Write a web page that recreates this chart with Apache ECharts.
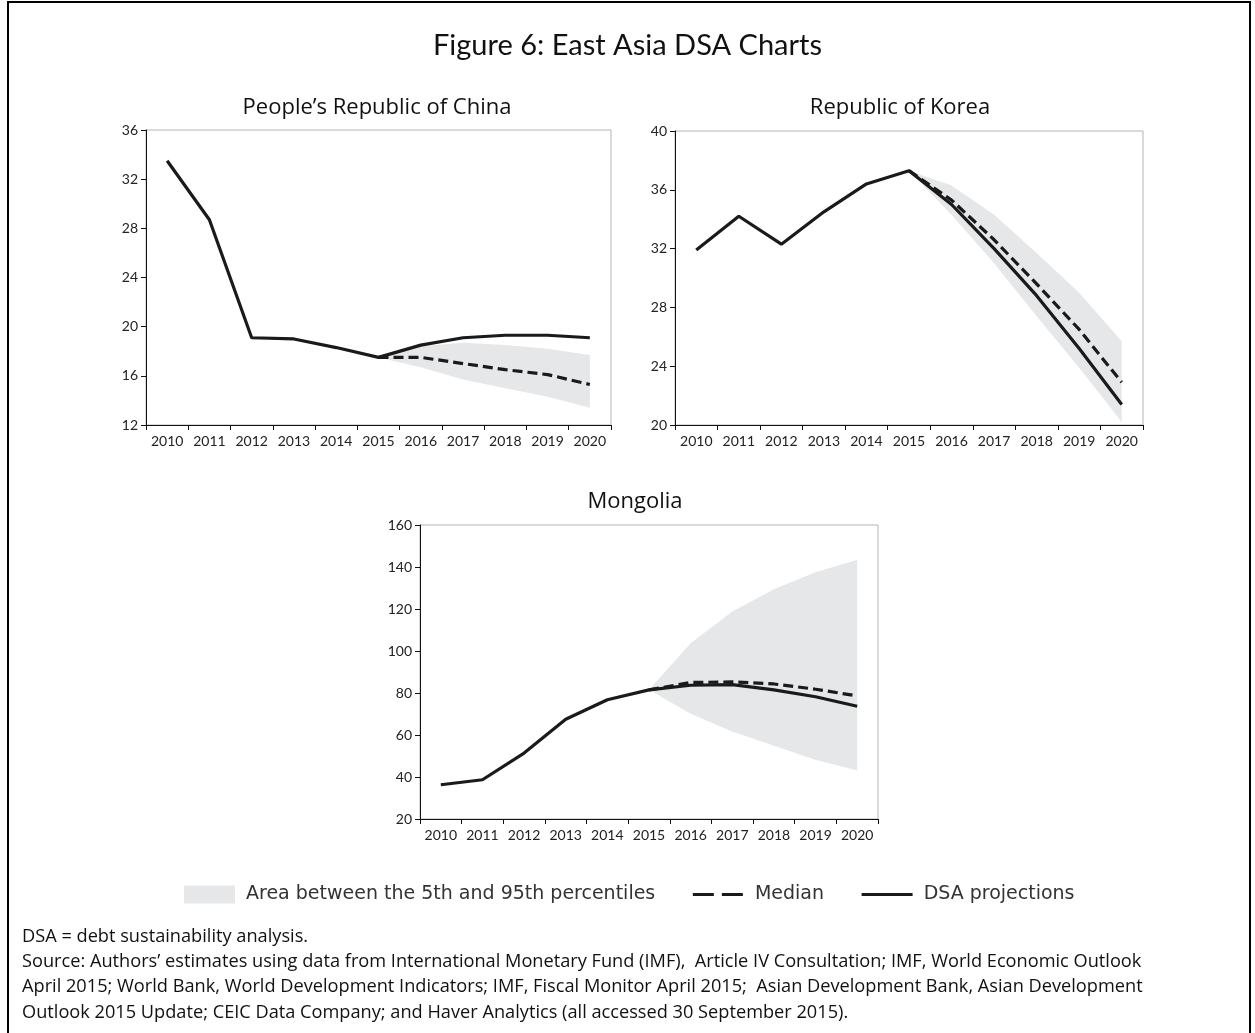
<!DOCTYPE html>
<html>
<head>
<meta charset="utf-8">
<script src="https://cdn.jsdelivr.net/npm/echarts@6/dist/echarts.min.js"></script>
<style>
html,body{margin:0;padding:0;background:#fff;}
#frame{position:absolute;left:7px;top:1px;width:1244px;height:1045px;border:2px solid #000;box-sizing:border-box;}
#chart{position:absolute;left:0;top:0;width:1255px;height:1033px;}
</style>
</head>
<body>
<div id="frame"></div>
<div id="chart"></div>
<script>
const years = ['2010','2011','2012','2013','2014','2015','2016','2017','2018','2019','2020'];

// People's Republic of China
const prcDSA    = [33.5, 28.7, 19.1, 19.0, 18.3, 17.5, 18.5, 19.1, 19.3, 19.3, 19.1];
const prcMedian = [null, null, null, null, null, 17.5, 17.5, 17.0, 16.5, 16.1, 15.3];
const prcP5     = [null, null, null, null, null, 17.5, 16.7, 15.7, 15.0, 14.3, 13.4];
const prcP95    = [null, null, null, null, null, 17.5, 18.4, 18.7, 18.5, 18.2, 17.7];

// Republic of Korea
const korDSA    = [31.9, 34.2, 32.3, 34.5, 36.4, 37.3, 35.0, 32.0, 28.8, 25.2, 21.4];
const korMedian = [null, null, null, null, null, 37.3, 35.3, 32.6, 29.6, 26.5, 22.9];
const korP5     = [null, null, null, null, null, 37.3, 34.3, 31.0, 27.4, 23.9, 20.2];
const korP95    = [null, null, null, null, null, 37.3, 36.3, 34.3, 31.7, 29.0, 25.7];

// Mongolia
const monDSA    = [36.3, 38.7, 51.4, 67.5, 76.8, 81.5, 83.7, 84.0, 81.5, 78.2, 73.7];
const monMedian = [null, null, null, null, null, 81.5, 85.0, 85.3, 84.3, 81.8, 78.6];
const monP5     = [null, null, null, null, null, 81.5, 70.1, 61.7, 54.9, 48.2, 43.1];
const monP95    = [null, null, null, null, null, 81.5, 103.7, 118.8, 129.4, 137.5, 143.4];

const yTicks = {
  prc: {min: 12, max: 36, interval: 4},
  kor: {min: 20, max: 40, interval: 4},
  mon: {min: 20, max: 160, interval: 20}
};

const NAME_AREA = 'Area between the 5th and 95th percentiles';
const NAME_MED = 'Median';
const NAME_DSA = 'DSA projections';

const FONT = 'Lato';
const BAND = '#e6e7e8';
const INK = '#1a1a1a';

function diff(hi, lo) { return hi.map((v, i) => (v == null || lo[i] == null) ? null : +(v - lo[i]).toFixed(2)); }

const grids = [
  {left: 146, top: 130, width: 465, height: 295},
  {left: 675, top: 131, width: 468, height: 294},
  {left: 420, top: 525, width: 458, height: 294}
];

function xAx(i) {
  return {
    type: 'category', gridIndex: i, data: years, boundaryGap: true,
    axisLine: {lineStyle: {color: '#111', width: 1}},
    axisTick: {show: true, length: 5, lineStyle: {color: '#111'}},
    axisLabel: {color: '#222', fontSize: 14, fontFamily: FONT, margin: 9, interval: 0}
  };
}
function yAx(i, t) {
  return {
    type: 'value', gridIndex: i, min: t.min, max: t.max, interval: t.interval,
    axisLine: {show: true, lineStyle: {color: '#111', width: 1}},
    axisTick: {show: true, length: 5, lineStyle: {color: '#111'}},
    splitLine: {show: false},
    axisLabel: {color: '#222', fontSize: 14, fontFamily: FONT, margin: 8}
  };
}
function seriesFor(i, dsa, med, p5, p95) {
  return [
    {type: 'line', name: 'lower' + i, xAxisIndex: i, yAxisIndex: i, data: p5, stack: 'band' + i,
     symbol: 'none', lineStyle: {opacity: 0}, silent: true, z: 1},
    {type: 'line', name: NAME_AREA, xAxisIndex: i, yAxisIndex: i, data: diff(p95, p5), stack: 'band' + i,
     symbol: 'none', lineStyle: {opacity: 0}, areaStyle: {color: BAND, opacity: 1}, itemStyle: {color: BAND}, silent: true, z: 1},
    {type: 'line', name: NAME_MED, xAxisIndex: i, yAxisIndex: i, data: med, symbol: 'none',
     lineStyle: {color: INK, width: 3.2, type: [10, 5]}, itemStyle: {color: INK}, z: 3},
    {type: 'line', name: NAME_DSA, xAxisIndex: i, yAxisIndex: i, data: dsa, symbol: 'none',
     lineStyle: {color: INK, width: 3.2}, itemStyle: {color: INK}, z: 4}
  ];
}

const hidden = {color: 'rgba(0,0,0,0)', borderWidth: 0, opacity: 0};

const chart = echarts.init(document.getElementById('chart'));
chart.setOption({
  animation: false,
  backgroundColor: 'transparent',
  title: [
    {text: 'Figure 6: East Asia DSA Charts', left: 'center', top: 31, padding: 0,
     textStyle: {fontFamily: FONT, fontSize: 29, fontWeight: 'normal', color: '#111'}},
    {text: 'People\u2019s Republic of China', left: 377, top: 97, textAlign: 'center', padding: 0,
     textStyle: {fontFamily: 'Open Sans', fontSize: 22, fontWeight: 'normal', color: '#111'}},
    {text: 'Republic of Korea', left: 900, top: 97, textAlign: 'center', padding: 0,
     textStyle: {fontFamily: 'Open Sans', fontSize: 22, fontWeight: 'normal', color: '#111'}},
    {text: 'Mongolia', left: 635, top: 491, textAlign: 'center', padding: 0,
     textStyle: {fontFamily: 'Open Sans', fontSize: 22, fontWeight: 'normal', color: '#111'}},
    {text: 'DSA = debt sustainability analysis.\nSource: Authors\u2019 estimates using data from International Monetary Fund (IMF),  Article IV Consultation; IMF, World Economic Outlook\nApril 2015; World Bank, World Development Indicators; IMF, Fiscal Monitor April 2015;  Asian Development Bank, Asian Development\nOutlook 2015 Update; CEIC Data Company; and Haver Analytics (all accessed 30 September 2015).',
     left: 22, top: 924, padding: 0,
     textStyle: {fontFamily: 'Open Sans', fontSize: 18.2, fontWeight: 'normal', color: '#111', lineHeight: 25.3}}
  ],
  legend: {
    left: 184, top: 885, padding: 0, itemWidth: 51, itemHeight: 18, itemGap: 36,
    textStyle: {fontFamily: 'DejaVu Sans', fontSize: 19, color: '#333'},
    formatter: name => ' ' + name,
    data: [
      {name: NAME_AREA, icon: 'rect', itemStyle: {color: BAND}},
      {name: NAME_MED, itemStyle: hidden, lineStyle: {type: [21, 8], width: 3.2, color: INK}},
      {name: NAME_DSA, itemStyle: hidden, lineStyle: {width: 3.2, color: INK}}
    ],
    selectedMode: false
  },
  grid: grids.map(g => Object.assign({show: true, borderColor: '#b5b5b5', borderWidth: 1, backgroundColor: 'transparent'}, g)),
  xAxis: [xAx(0), xAx(1), xAx(2)],
  yAxis: [yAx(0, yTicks.prc), yAx(1, yTicks.kor), yAx(2, yTicks.mon)],
  series: [].concat(
    seriesFor(0, prcDSA, prcMedian, prcP5, prcP95),
    seriesFor(1, korDSA, korMedian, korP5, korP95),
    seriesFor(2, monDSA, monMedian, monP5, monP95)
  )
});
</script>
</body>
</html>
